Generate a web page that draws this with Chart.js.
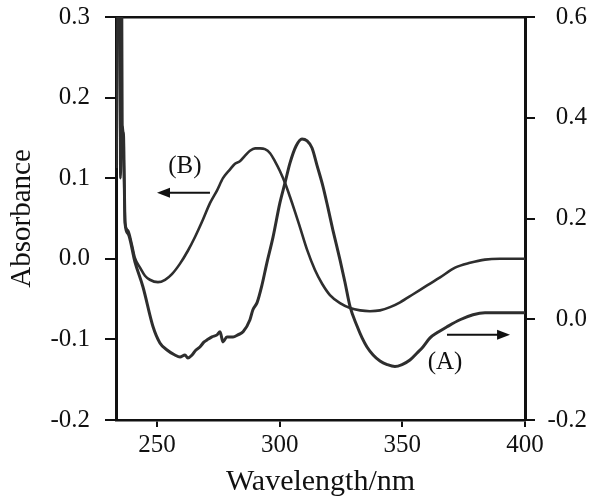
<!DOCTYPE html>
<html>
<head>
<meta charset="utf-8">
<script src="https://cdn.jsdelivr.net/npm/chart.js@4"></script>
<style>
html,body{margin:0;padding:0;background:#fff;}
#wrap{width:600px;height:504px;}
</style>
</head>
<body>
<div id="wrap"><canvas id="c" width="600" height="504"></canvas></div>
<script>
// ---- data ----
const wavelengthA = [233.4,234.0,234.8,235.4,235.9,236.3,237.0,238.2,241.0,244.3,248.4,251.2,254.1,257.3,259.4,261.4,262.6,264.3,265.9,267.5,269.2,270.4,272.4,274.5,275.7,276.9,278.5,281.0,283.0,285.1,287.9,289.1,290.8,292.8,294.8,297.3,300.1,302.2,304.2,306.7,309.1,311.2,313.2,315.2,317.7,319.7,321.7,324.6,326.6,328.7,331.5,333.6,335.6,338.1,340.9,343.8,347.0,349.9,353.1,356.0,358.4,361.3,364.1,368.2,373.5,378.8,383.7,388.6,393.9,400.0];
const absorbanceA = [0.30,0.60,0.90,0.90,0.35,0.37,0.19,0.17,0.114,0.064,-0.015,-0.047,-0.061,-0.071,-0.075,-0.071,-0.077,-0.071,-0.061,-0.055,-0.045,-0.041,-0.035,-0.031,-0.025,-0.045,-0.035,-0.035,-0.031,-0.025,-0.001,0.019,0.033,0.068,0.112,0.163,0.231,0.271,0.310,0.344,0.358,0.354,0.340,0.306,0.263,0.221,0.177,0.118,0.074,0.025,-0.013,-0.037,-0.055,-0.071,-0.083,-0.090,-0.094,-0.090,-0.081,-0.067,-0.055,-0.037,-0.027,-0.015,-0.001,0.009,0.013,0.013,0.013,0.013];

const wavelengthB = [233.6,234.6,235.1,235.6,236.1,236.6,237.0,238.2,239.8,241.0,243.1,245.1,247.1,250.4,253.3,256.1,259.4,262.6,265.5,268.8,271.6,274.5,276.9,279.8,281.8,283.8,285.9,287.9,290.0,292.0,294.0,296.1,298.1,300.1,302.2,304.2,306.3,308.3,311.2,314.4,317.3,320.5,324.6,328.7,332.8,336.8,340.9,345.0,349.1,354.4,360.1,365.4,371.5,377.6,383.7,389.8,400.0];
const absorbanceB = [0.50,0.50,0.10,0.15,0.164,0.10,0.045,0.035,0.017,0.001,-0.011,-0.021,-0.026,-0.029,-0.026,-0.019,-0.006,0.010,0.027,0.049,0.069,0.085,0.100,0.111,0.118,0.121,0.128,0.134,0.137,0.137,0.136,0.131,0.121,0.109,0.094,0.077,0.058,0.039,0.011,-0.014,-0.031,-0.045,-0.055,-0.061,-0.064,-0.065,-0.064,-0.060,-0.054,-0.044,-0.033,-0.023,-0.011,-0.005,-0.001,0.000,0.000];

const xTicks = [250, 300, 350, 400];
const leftTicks = [-0.2, -0.1, 0.0, 0.1, 0.2, 0.3];
const rightTicks = [-0.2, 0.0, 0.2, 0.4, 0.6];

const labelA = '(A)';
const labelB = '(B)';

// ---- chart ----
const FONT = "'Liberation Serif', 'Times New Roman', serif";
const INK = '#111';
const LINE = '#2e2e2e';

const toPts = (xs, ys) => xs.map((x, i) => ({x: x, y: ys[i]}));

const annotations = [
  {type: 'text', text: labelB, axis: 'y', at: [261.4, 0.115]},
  {type: 'arrow', axis: 'y', from: [271.6, 0.082], to: [250.0, 0.082]},
  {type: 'text', text: labelA, axis: 'y2', at: [367.4, -0.085]},
  {type: 'arrow', axis: 'y2', from: [368.2, -0.031], to: [393.9, -0.031]}
];

const annotationPlugin = {
  id: 'labels',
  afterDatasetsDraw(chart) {
    const ctx = chart.ctx;
    const xs = chart.scales.x;
    ctx.save();
    ctx.fillStyle = INK;
    ctx.strokeStyle = INK;
    annotations.forEach(a => {
      const ys = chart.scales[a.axis];
      if (a.type === 'text') {
        ctx.font = '25px ' + FONT;
        ctx.textAlign = 'center';
        ctx.textBaseline = 'middle';
        ctx.fillText(a.text, xs.getPixelForValue(a.at[0]), ys.getPixelForValue(a.at[1]));
      } else {
        const x1 = xs.getPixelForValue(a.from[0]), y1 = ys.getPixelForValue(a.from[1]);
        const x2 = xs.getPixelForValue(a.to[0]), y2 = ys.getPixelForValue(a.to[1]);
        const dir = Math.sign(x2 - x1);
        ctx.lineWidth = 2;
        ctx.beginPath();
        ctx.moveTo(x1, y1);
        ctx.lineTo(x2 - dir * 8, y2);
        ctx.stroke();
        ctx.beginPath();
        ctx.moveTo(x2, y2);
        ctx.lineTo(x2 - dir * 13, y2 - 5);
        ctx.lineTo(x2 - dir * 13, y2 + 5);
        ctx.closePath();
        ctx.fill();
      }
    });
    ctx.restore();
  }
};

const setTicks = arr => scale => { scale.ticks = arr.map(v => ({value: v})); };

new Chart(document.getElementById('c'), {
  type: 'line',
  data: {
    datasets: [
      {label: 'A', data: toPts(wavelengthA, absorbanceA), yAxisID: 'y2', borderColor: LINE, borderWidth: 3, pointRadius: 0, cubicInterpolationMode: 'monotone', fill: false},
      {label: 'B', data: toPts(wavelengthB, absorbanceB), yAxisID: 'y', borderColor: LINE, borderWidth: 2.6, pointRadius: 0, cubicInterpolationMode: 'monotone', fill: false}
    ]
  },
  options: {
    responsive: false,
    animation: false,
    devicePixelRatio: 1,
    layout: {padding: {top: 17, left: 0, right: 13, bottom: 0}},
    plugins: {legend: {display: false}, tooltip: {enabled: false}},
    scales: {
      x: {
        type: 'linear', position: 'bottom', min: 233.3, max: 400,
        afterBuildTicks: setTicks(xTicks),
        afterFit: s => { s.height = 84; },
        grid: {drawOnChartArea: false, drawTicks: true, tickLength: 7, color: INK, lineWidth: 2},
        border: {display: true, color: INK, width: 2.5},
        ticks: {font: {family: FONT, size: 25}, color: INK, padding: 3, maxRotation: 0, callback: v => String(v)},
        title: {display: true, text: 'Wavelength/nm', font: {family: FONT, size: 30}, color: INK, padding: {top: 0, bottom: 4}}
      },
      xTop: {
        type: 'linear', position: 'top', min: 233.3, max: 400,
        afterFit: s => { s.height = 0; s.paddingLeft = 0; s.paddingRight = 0; },
        grid: {drawOnChartArea: false, drawTicks: false, color: INK},
        border: {display: true, color: INK, width: 2.5},
        ticks: {display: false}
      },
      y: {
        type: 'linear', position: 'left', min: -0.2, max: 0.3,
        afterBuildTicks: setTicks(leftTicks),
        afterFit: s => { s.width = 116; s.paddingTop = 0; s.paddingBottom = 0; },
        grid: {drawOnChartArea: false, drawTicks: true, tickLength: 11, color: INK, lineWidth: 2},
        border: {display: true, color: INK, width: 3},
        ticks: {font: {family: FONT, size: 25}, color: INK, padding: 15, callback: v => v.toFixed(1)},
        title: {display: true, text: 'Absorbance', font: {family: FONT, size: 29}, color: INK, padding: {top: 5, bottom: 0}}
      },
      y2: {
        type: 'linear', position: 'right', min: -0.2, max: 0.6,
        afterBuildTicks: setTicks(rightTicks),
        afterFit: s => { s.width = 62; s.paddingTop = 0; s.paddingBottom = 0; },
        grid: {drawOnChartArea: false, drawTicks: true, tickLength: 10, color: INK, lineWidth: 2},
        border: {display: true, color: INK, width: 3},
        ticks: {font: {family: FONT, size: 25}, color: INK, padding: 12, crossAlign: 'far', callback: v => v.toFixed(1)}
      }
    }
  },
  plugins: [annotationPlugin]
});
</script>
</body>
</html>
